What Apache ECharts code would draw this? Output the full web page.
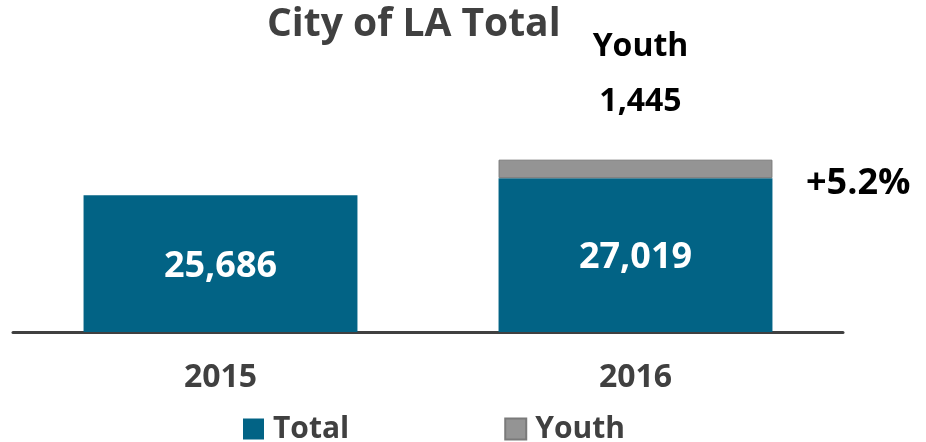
<!DOCTYPE html>
<html lang="en">
<head>
    <meta charset="UTF-8">
    <title>City of LA Total</title>
    <script src="https://cdn.jsdelivr.net/npm/echarts@6/dist/echarts.min.js"></script>
    <style>
        html, body { margin: 0; padding: 0; background: #fff; }
        #chart { width: 926px; height: 442px; }
    </style>
</head>
<body>
<div id="chart"></div>
<script>
    // data
    var years = ['2015', '2016'];
    var totalCounts = [25686, 27019];
    var youthCounts = [null, 1445];
    var changeLabel = '+5.2%';

    var teal = '#026385';
    var grey = '#949494';
    var darkText = '#404040';
    var font = '"Open Sans", sans-serif';

    function fmt(v) {
        return Number(v).toLocaleString('en-US');
    }

    var chart = echarts.init(document.getElementById('chart'));

    var option = {
        animation: false,
        title: {
            text: 'City of LA Total',
            left: 262,
            top: 0,
            textStyle: { fontFamily: font, fontSize: 39, fontWeight: 'bold', color: darkText }
        },
        legend: {
            data: ['Total', 'Youth'],
            left: 238,
            top: 409,
            itemWidth: 21,
            itemHeight: 21,
            itemGap: 155,
            icon: 'rect',
            textStyle: { fontFamily: font, fontSize: 30, fontWeight: 'bold', color: darkText, padding: [0, 0, 0, 4] }
        },
        grid: { left: 13, right: 83, top: 76, bottom: 110 },
        xAxis: {
            type: 'category',
            data: years,
            axisLine: { lineStyle: { color: darkText, width: 3 } },
            axisTick: { show: false },
            axisLabel: { margin: 30, fontFamily: font, fontSize: 32, fontWeight: 'bold', color: darkText }
        },
        yAxis: {
            type: 'value',
            min: 15000,
            max: 35000,
            show: false,
            splitLine: { show: false }
        },
        series: [
            {
                name: 'Total',
                type: 'bar',
                stack: 'all',
                barWidth: '66%',
                itemStyle: { color: teal },
                label: {
                    show: true,
                    position: 'inside',
                    offset: [0, 3],
                    formatter: function (p) { return fmt(p.value); },
                    fontFamily: font, fontSize: 36, fontWeight: 'bold', color: '#fff'
                },
                data: totalCounts
            },
            {
                name: 'Youth',
                type: 'bar',
                stack: 'all',
                itemStyle: { color: grey, borderColor: '#7a7a7a', borderWidth: 1 },
                label: {
                    show: true,
                    position: 'top',
                    distance: 30,
                    offset: [5, 0],
                    lineHeight: 55,
                    formatter: function (p) { return 'Youth\n' + fmt(p.value); },
                    fontFamily: font, fontSize: 32, fontWeight: 'bold', color: '#000'
                },
                data: youthCounts
            }
        ],
        graphic: [
            {
                type: 'text',
                left: 806,
                top: 166,
                style: {
                    text: changeLabel,
                    fontFamily: font, fontSize: 36, fontWeight: 'bold', fill: '#000'
                }
            }
        ]
    };

    chart.setOption(option);
</script>
</body>
</html>
